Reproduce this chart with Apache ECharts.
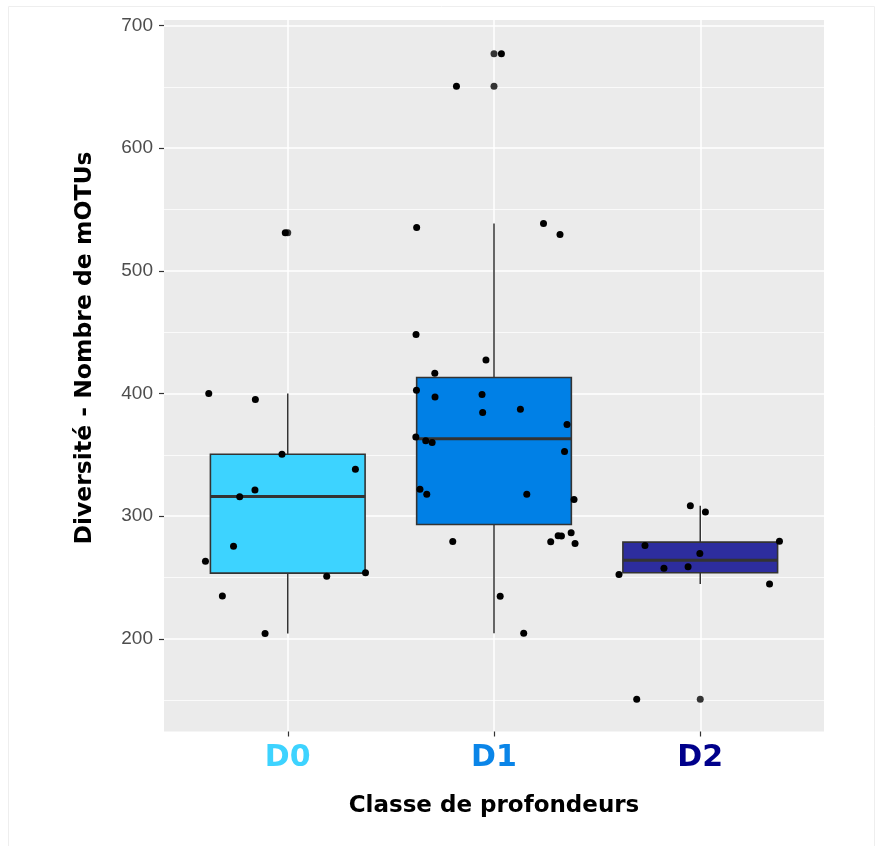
<!DOCTYPE html>
<html>
<head>
<meta charset="utf-8">
<script src="https://cdn.jsdelivr.net/npm/echarts@6/dist/echarts.min.js"></script>
<style>html,body{margin:0;padding:0;background:#fff;}#chart{width:880px;height:846px;}</style>
</head>
<body>
<div id="chart"></div>
<script>
// ---- data ----
const categories = ['D0', 'D1', 'D2'];
const boxFill = ['#3DD3FF', '#0080E6', '#2D2D9E'];
const labelColor = ['#3DD3FF', '#0A85E8', '#00008B'];
// [lower whisker, Q1, median, Q3, upper whisker]
const boxD0 = [204.4, 253.5, 316, 350.5, 400];
const boxD1 = [204.6, 293.2, 363, 413, 538.5];
const boxD2 = [244.6, 253.8, 264.1, 278.8, 308.4];
// outliers (drawn at category centre)
const outD0 = [531];
const outD1 = [650.4, 677];
const outD2 = [150.6];
// jittered points: horizontal offset (category units) and value
const jitD0Off = [-0.012, -0.383, -0.157, -0.028, 0.328, -0.159, -0.233, -0.263, -0.399, 0.189, 0.377, -0.317, -0.110];
const jitD0Val = [531, 400, 395, 350.5, 338.3, 321.4, 315.7, 275.5, 263.3, 250.9, 253.8, 234.8, 204.4];
const jitD1Off = [0.036, -0.182, -0.375, 0.240, 0.320, -0.378, -0.039, -0.287, -0.376, -0.286, -0.058, -0.055, -0.379, -0.331, -0.300, -0.359, -0.326, -0.200, 0.030, 0.128, 0.354, 0.342, 0.159, 0.388, 0.275, 0.311, 0.327, 0.374, 0.393, 0.144];
const jitD1Val = [677, 650.4, 535.3, 538.5, 529.6, 448.1, 427.2, 416.5, 402.7, 397.2, 399.2, 384.5, 364.6, 361.4, 360.1, 322, 317.9, 279.4, 234.6, 387.2, 374.7, 352.7, 317.9, 313.6, 279.1, 284, 283.7, 286.4, 277.7, 204.6];
const jitD2Off = [-0.048, 0.025, 0.384, -0.268, -0.002, -0.176, -0.059, -0.394, 0.336, -0.308];
const jitD2Val = [308.4, 303.3, 279.6, 276.1, 269.6, 257.4, 258.7, 252.5, 244.6, 150.6];
const yMajor = [200, 300, 400, 500, 600, 700];
const yMinor = [150, 250, 350, 450, 550, 650];

// ---- build ----
const boxes = [boxD0, boxD1, boxD2];
const outs = [outD0, outD1, outD2];
const jOff = [jitD0Off, jitD1Off, jitD2Off];
const jVal = [jitD0Val, jitD1Val, jitD2Val];

const boxData = boxes.map((b, i) => [i].concat(b));
const outData = [];
outs.forEach((arr, i) => arr.forEach(v => outData.push([i, v])));
const jitData = [];
jOff.forEach((arr, i) => arr.forEach((o, k) => jitData.push([i + o, jVal[i][k]])));

const rich = {};
categories.forEach((c, i) => {
  rich['c' + i] = { color: labelColor[i], fontSize: 30, fontWeight: 'bold', fontFamily: 'DejaVu Sans' };
});

const chart = echarts.init(document.getElementById('chart'), null, { renderer: 'canvas' });
chart.setOption({
  animation: false,
  backgroundColor: '#ffffff',
  grid: { left: 164, top: 20, width: 660, height: 711.5, show: true, backgroundColor: '#EBEBEB', borderWidth: 0 },
  xAxis: {
    type: 'value', min: -0.6, max: 2.6,
    axisLine: { show: false, onZero: false },
    axisTick: { show: true, length: 5, lineStyle: { color: '#333333', width: 1.2 }, customValues: [0, 1, 2] },
    axisLabel: { customValues: [0, 1, 2], margin: 12, formatter: v => { const i = Math.round(v); return '{c' + i + '|' + categories[i] + '}'; }, rich: rich },
    splitLine: { show: true, lineStyle: { color: '#FFFFFF', width: 1.5 } }
  },
  yAxis: [{
    type: 'value', min: 124.4, max: 704.5,
    axisLine: { show: false, onZero: false },
    axisTick: { show: true, length: 5, lineStyle: { color: '#333333', width: 1.2 }, customValues: yMajor },
    axisLabel: { customValues: yMajor, margin: 11, color: '#4D4D4D', fontSize: 19, fontFamily: 'Liberation Sans' },
    splitLine: { show: true, lineStyle: { color: '#FFFFFF', width: 1.5 } }
  }, {
    type: 'value', min: 124.4, max: 704.5, position: 'left',
    axisLine: { show: false, onZero: false },
    axisTick: { show: false, customValues: yMinor },
    axisLabel: { show: false, customValues: yMinor },
    splitLine: { show: true, lineStyle: { color: '#FFFFFF', width: 0.75 } }
  }],
  graphic: [
    { type: 'rect', silent: true, z: -1, shape: { x: 8.5, y: 6.5, width: 866, height: 845 }, style: { fill: 'none', stroke: '#EEEEEE', lineWidth: 1 } },
    { type: 'text', x: 84.5, y: 348, rotation: Math.PI / 2, style: { text: 'Diversité - Nombre de mOTUs', font: 'bold 23.5px "DejaVu Sans"', fill: '#000000', align: 'center', verticalAlign: 'middle' } },
    { type: 'text', x: 494, y: 806, style: { text: 'Classe de profondeurs', font: 'bold 23px "DejaVu Sans"', fill: '#000000', align: 'center', verticalAlign: 'middle' } }
  ],
  series: [
    {
      type: 'custom', name: 'box', z: 2,
      data: boxData,
      renderItem: function (params, api) {
        const i = api.value(0);
        const lo = api.value(1), q1 = api.value(2), md = api.value(3), q3 = api.value(4), hi = api.value(5);
        const pLo = api.coord([i, lo]), pQ1 = api.coord([i, q1]), pMd = api.coord([i, md]), pQ3 = api.coord([i, q3]), pHi = api.coord([i, hi]);
        const hw = api.size([0.75, 0])[0] / 2;
        const cx = pMd[0];
        const stroke = '#333333';
        return {
          type: 'group',
          children: [
            { type: 'line', shape: { x1: cx, y1: pQ3[1], x2: cx, y2: pHi[1] }, style: { stroke: stroke, lineWidth: 1.5 } },
            { type: 'line', shape: { x1: cx, y1: pQ1[1], x2: cx, y2: pLo[1] }, style: { stroke: stroke, lineWidth: 1.5 } },
            { type: 'rect', shape: { x: cx - hw, y: pQ3[1], width: 2 * hw, height: pQ1[1] - pQ3[1] }, style: { fill: boxFill[params.dataIndex], stroke: stroke, lineWidth: 1.6 } },
            { type: 'line', shape: { x1: cx - hw, y1: pMd[1], x2: cx + hw, y2: pMd[1] }, style: { stroke: stroke, lineWidth: 3 } }
          ]
        };
      }
    },
    {
      type: 'scatter', name: 'outliers', z: 3,
      data: outData, symbol: 'circle', symbolSize: 7,
      itemStyle: { color: '#333333', opacity: 1 }
    },
    {
      type: 'scatter', name: 'points', z: 4,
      data: jitData, symbol: 'circle', symbolSize: 7,
      itemStyle: { color: '#000000', opacity: 1 }
    }
  ]
});
</script>
</body>
</html>
